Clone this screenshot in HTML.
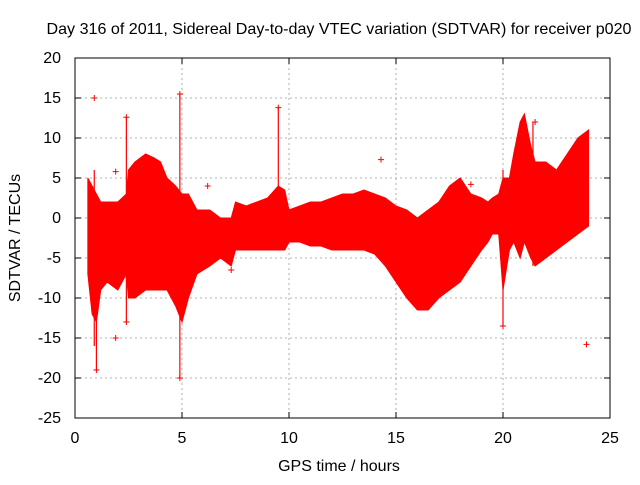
<!DOCTYPE html>
<html><head><meta charset="utf-8"><style>
body{margin:0;background:#fff;}
svg text{font-family:"Liberation Sans",sans-serif;font-size:16px;fill:#000;}
</style></head><body>
<svg id="chart" width="640" height="480" xmlns="http://www.w3.org/2000/svg">
<rect width="640" height="480" fill="#fff"/>
<text x="339" y="34" text-anchor="middle" textLength="585" lengthAdjust="spacingAndGlyphs">Day 316 of 2011, Sidereal Day-to-day VTEC variation (SDTVAR) for receiver p020</text>
<g id="grid"></g>
<g id="series"></g>
<g id="axes"></g>
<text x="339" y="471" text-anchor="middle">GPS time / hours</text>
<text transform="translate(20,238) rotate(-90)" text-anchor="middle">SDTVAR / TECUs</text>
</svg>
<script>
const xTicks=[0,5,10,15,20,25];
const yTicks=[20,15,10,5,0,-5,-10,-15,-20,-25];
const hours=[0.6,0.8,1.0,1.2,1.5,2.0,2.4,2.5,2.8,3.3,3.7,4.0,4.3,4.7,5.0,5.3,5.7,6.3,6.8,7.3,7.5,8.0,8.5,9.0,9.5,9.8,10.0,10.5,11,11.5,12,12.5,13,13.5,14,14.5,15,15.5,16,16.5,17,17.5,18,18.5,19,19.3,19.5,19.8,20,20.3,20.5,20.8,21,21.3,21.5,22,22.5,23,23.5,24];
const upper=[5,4,3,2,2,2,3,6,7,8,7.5,7,5,4,3,3,1,1,0,0,2,1.5,2,2.5,4,3.5,1,1.5,2,2,2.5,3,3,3.5,3,2.5,1.5,1,0,1,2,4,5,3,2.5,2,2.5,3,5,5,8,12,13,9,7,7,6,8,10,11];
const lower=[-7,-12,-13,-9,-8,-9,-7,-10,-10,-9,-9,-9,-9,-11,-13,-10,-7,-6,-5,-6,-4,-4,-4,-4,-4,-4,-3,-3,-3.5,-3.5,-4,-4,-4,-4,-4.5,-6,-8,-10,-11.5,-11.5,-10,-9,-8,-6,-4,-3,-2,-2,-9,-4,-3,-5,-3,-5,-6,-5,-4,-3,-2,-1];
const spikeHours=[0.9,1.0,2.4,4.9,9.5,20.0,21.4];
const spikeTop=[6,3,12.6,15.5,13.8,6,12];
const spikeBottom=[-16,-19,-13,-20,-2,-13.5,-6];
const outlierHours=[0.9,1.0,1.9,1.9,2.4,2.4,4.9,4.9,9.5,14.3,20.0,23.9,21.5,6.2,7.3,18.5];
const outlierVals=[15,-19,5.8,-15,12.6,-13,15.5,-20,13.8,7.3,-13.5,-15.8,12,4,-6.5,4.2];
const X0=75,X1=610,Y0=418,Y1=58;
const sx=v=>X0+(v-0)/(25-0)*(X1-X0);
const sy=v=>Y0-(v+25)/(45)*(Y0-Y1);
const NS="http://www.w3.org/2000/svg";
function mk(t,a,p){const e=document.createElementNS(NS,t);for(const k in a)e.setAttribute(k,a[k]);p.appendChild(e);return e;}
const grid=document.getElementById('grid'),axes=document.getElementById('axes'),ser=document.getElementById('series');
xTicks.forEach(t=>{
 if(t>0&&t<25){const l=mk('line',{x1:sx(t),x2:sx(t),y1:Y1,y2:Y0,stroke:'#999','stroke-dasharray':'2,3','stroke-width':0.8},grid);
 }
 mk('line',{x1:sx(t),x2:sx(t),y1:Y0,y2:Y0-6,stroke:'#000'},axes);
 mk('line',{x1:sx(t),x2:sx(t),y1:Y1,y2:Y1+6,stroke:'#000'},axes);
 const tx=mk('text',{x:sx(t),y:Y0+25,'text-anchor':'middle'},axes);tx.textContent=t;
 
});
yTicks.forEach(t=>{
 if(t<20&&t>-25){const l=mk('line',{x1:X0,x2:X1,y1:sy(t),y2:sy(t),stroke:'#999','stroke-dasharray':'2,3','stroke-width':0.8},grid);
 }
 mk('line',{x1:X0,x2:X0+6,y1:sy(t),y2:sy(t),stroke:'#000'},axes);
 mk('line',{x1:X1,x2:X1-6,y1:sy(t),y2:sy(t),stroke:'#000'},axes);
 const tx=mk('text',{x:X0-14,y:sy(t)+5,'text-anchor':'end'},axes);tx.textContent=t;
 
});
mk('rect',{x:X0,y:Y1,width:X1-X0,height:Y0-Y1,fill:'none',stroke:'#000'},axes);
let d='M'+hours.map((h,i)=>sx(h)+','+sy(upper[i])).join(' L');
for(let i=hours.length-1;i>=0;i--)d+=' L'+sx(hours[i])+','+sy(lower[i]);
const band=mk('path',{d:d+'Z',fill:'#f00',stroke:'#f00','stroke-width':1},ser);

spikeHours.forEach((h,i)=>{
 const l=mk('line',{x1:sx(h),x2:sx(h),y1:sy(spikeTop[i]),y2:sy(spikeBottom[i]),stroke:'#f00','stroke-width':1.2},ser);
 
});
outlierHours.forEach((h,i)=>{
 const x=sx(h),y=sy(outlierVals[i]);
 const p=mk('path',{d:`M${x-3},${y}H${x+3}M${x},${y-3}V${y+3}`,stroke:'#f00','stroke-width':1},ser);
 
});
</script>
</body></html>
